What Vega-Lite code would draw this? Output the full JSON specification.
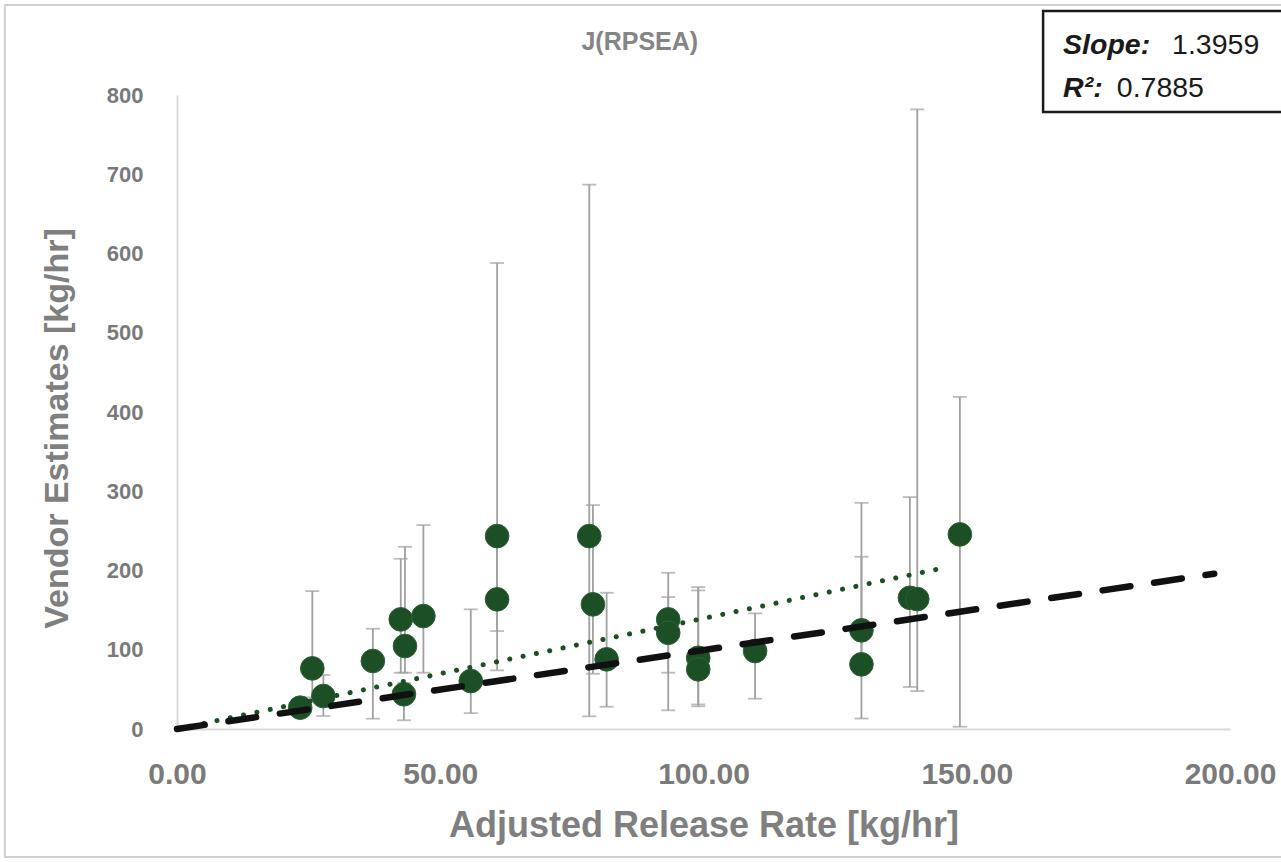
{
  "$schema": "https://vega.github.io/schema/vega-lite/v6.json",
  "autosize": {"type": "none"},
  "width": 1053,
  "height": 634,
  "padding": {"left": 177, "top": 95, "right": 51, "bottom": 133},
  "background": "white",
  "datasets": {
    "pts": [
      {"x": 23.4, "y": 26.9, "lo": 19, "hi": 34},
      {"x": 25.7, "y": 76.5, "lo": 40, "hi": 174},
      {"x": 27.8, "y": 41.6, "lo": 16.4, "hi": 68},
      {"x": 37.2, "y": 85.8, "lo": 13, "hi": 126.5},
      {"x": 42.5, "y": 138.3, "lo": 71, "hi": 214.8},
      {"x": 43.3, "y": 104.7, "lo": 71, "hi": 229.9},
      {"x": 43.1, "y": 43.8, "lo": 11, "hi": 58},
      {"x": 46.8, "y": 142.5, "lo": 71, "hi": 257.3},
      {"x": 55.8, "y": 60.5, "lo": 20, "hi": 151},
      {"x": 60.8, "y": 243.4, "lo": 123.6, "hi": 588},
      {"x": 60.8, "y": 163.6, "lo": 74, "hi": 240},
      {"x": 78.3, "y": 243.4, "lo": 16, "hi": 686.9},
      {"x": 79.0, "y": 157.3, "lo": 69.7, "hi": 282.5},
      {"x": 81.6, "y": 87.9, "lo": 28.1, "hi": 171.9},
      {"x": 93.3, "y": 138.3, "lo": 71, "hi": 197.1},
      {"x": 93.3, "y": 121.4, "lo": 23.6, "hi": 166.5},
      {"x": 99.0, "y": 89.9, "lo": 31, "hi": 179},
      {"x": 99.0, "y": 75.3, "lo": 28.6, "hi": 174.9},
      {"x": 109.8, "y": 98.4, "lo": 38.2, "hi": 145.9},
      {"x": 130.0, "y": 124.5, "lo": 13.2, "hi": 285.4},
      {"x": 130.0, "y": 81.6, "lo": 75, "hi": 217.3},
      {"x": 139.2, "y": 165.6, "lo": 53, "hi": 292.6},
      {"x": 140.6, "y": 163.9, "lo": 47.9, "hi": 781.8},
      {"x": 148.7, "y": 245.5, "lo": 2.9, "hi": 419}
    ],
    "fit": [
      {"x": 0, "y": 0},
      {"x": 146, "y": 203.8}
    ],
    "oneToOne": [
      {"x": 0, "y": 0},
      {"x": 197, "y": 196}
    ],
    "one": [{}]
  },
  "config": {
    "view": {"stroke": null},
    "axis": {
      "grid": false,
      "ticks": false,
      "domainColor": "#d9d9d9",
      "domainWidth": 2,
      "labelColor": "#7a7a7a",
      "titleColor": "#7f7f7f",
      "labelFont": "Liberation Sans",
      "titleFont": "Liberation Sans",
      "labelFontWeight": "bold",
      "titleFontWeight": "bold"
    }
  },
  "layer": [
    {
      "data": {"name": "one"},
      "mark": {"type": "rect", "fill": null, "stroke": "#d0d0d0", "strokeWidth": 2},
      "encoding": {
        "x": {"datum": -32.7, "type": "quantitative", "scale": {"domain": [0, 200], "nice": false}},
        "x2": {"datum": 215},
        "y": {"datum": 913.6, "type": "quantitative", "scale": {"domain": [0, 800], "nice": false}},
        "y2": {"datum": -161.5}
      }
    },
    {
      "data": {"name": "pts"},
      "mark": {"type": "rule", "color": "#a0a0a0", "strokeWidth": 1.8},
      "encoding": {
        "x": {
          "field": "x", "type": "quantitative",
          "scale": {"domain": [0, 200], "nice": false},
          "axis": {
            "values": [0, 50, 100, 150, 200],
            "format": ".2f",
            "labelFontSize": 30,
            "labelPadding": 30,
            "titleFontSize": 36,
            "titlePadding": 19,
            "labelFlush": false,
            "labelOverlap": false
          },
          "title": "Adjusted Release Rate [kg/hr]"
        },
        "y": {
          "field": "lo", "type": "quantitative",
          "scale": {"domain": [0, 800], "nice": false},
          "axis": {
            "values": [0, 100, 200, 300, 400, 500, 600, 700, 800],
            "labelFontSize": 22,
            "labelPadding": 34,
            "titleFontSize": 34,
            "titlePadding": 32,
            "titleY": 333,
            "labelFlush": false
          },
          "title": "Vendor Estimates [kg/hr]"
        },
        "y2": {"field": "hi"}
      }
    },
    {
      "data": {"name": "pts"},
      "mark": {"type": "tick", "orient": "horizontal", "color": "#a0a0a0", "thickness": 1.8, "size": 14},
      "encoding": {
        "x": {"field": "x", "type": "quantitative"},
        "y": {"field": "lo", "type": "quantitative"}
      }
    },
    {
      "data": {"name": "pts"},
      "mark": {"type": "tick", "orient": "horizontal", "color": "#a0a0a0", "thickness": 1.8, "size": 14},
      "encoding": {
        "x": {"field": "x", "type": "quantitative"},
        "y": {"field": "hi", "type": "quantitative"}
      }
    },
    {
      "data": {"name": "pts"},
      "mark": {"type": "circle", "size": 560, "opacity": 1, "color": "#1d4f27", "stroke": "#2b6236", "strokeWidth": 1},
      "encoding": {
        "x": {"field": "x", "type": "quantitative"},
        "y": {"field": "y", "type": "quantitative"}
      }
    },
    {
      "data": {"name": "fit"},
      "mark": {"type": "line", "color": "#1d4f27", "strokeWidth": 5, "strokeDash": [0.1, 13.5], "strokeCap": "round"},
      "encoding": {
        "x": {"field": "x", "type": "quantitative"},
        "y": {"field": "y", "type": "quantitative"}
      }
    },
    {
      "data": {"name": "oneToOne"},
      "mark": {"type": "line", "color": "#111111", "strokeWidth": 6.5, "strokeDash": [28, 24], "strokeCap": "round"},
      "encoding": {
        "x": {"field": "x", "type": "quantitative"},
        "y": {"field": "y", "type": "quantitative"}
      }
    },
    {
      "data": {"name": "one"},
      "mark": {"type": "text", "text": "J(RPSEA)", "font": "Liberation Sans", "fontSize": 25, "fontWeight": "bold", "align": "center", "baseline": "middle", "color": "#858585"},
      "encoding": {
        "x": {"datum": 87.9, "type": "quantitative"},
        "y": {"datum": 866.9, "type": "quantitative"}
      }
    },
    {
      "data": {"name": "one"},
      "mark": {"type": "rect", "fill": "white", "stroke": "#1a1a1a", "strokeWidth": 2.5},
      "encoding": {
        "x": {"datum": 164.5, "type": "quantitative"},
        "x2": {"datum": 215},
        "y": {"datum": 906, "type": "quantitative"},
        "y2": {"datum": 778.5}
      }
    },
    {
      "data": {"name": "one"},
      "mark": {"type": "text", "text": "Slope:", "font": "Liberation Sans", "fontSize": 28.5, "fontWeight": "bold", "fontStyle": "italic", "align": "left", "baseline": "middle", "color": "#1a1a1a"},
      "encoding": {
        "x": {"datum": 168.3, "type": "quantitative"},
        "y": {"datum": 863, "type": "quantitative"}
      }
    },
    {
      "data": {"name": "one"},
      "mark": {"type": "text", "text": "1.3959", "font": "Liberation Sans", "fontSize": 28.5, "align": "left", "baseline": "middle", "color": "#1a1a1a"},
      "encoding": {
        "x": {"datum": 189.0, "type": "quantitative"},
        "y": {"datum": 863, "type": "quantitative"}
      }
    },
    {
      "data": {"name": "one"},
      "mark": {"type": "text", "text": "R²:", "font": "Liberation Sans", "fontSize": 28.5, "fontWeight": "bold", "fontStyle": "italic", "align": "left", "baseline": "middle", "color": "#1a1a1a"},
      "encoding": {
        "x": {"datum": 168.3, "type": "quantitative"},
        "y": {"datum": 809, "type": "quantitative"}
      }
    },
    {
      "data": {"name": "one"},
      "mark": {"type": "text", "text": "0.7885", "font": "Liberation Sans", "fontSize": 28.5, "align": "left", "baseline": "middle", "color": "#1a1a1a"},
      "encoding": {
        "x": {"datum": 178.5, "type": "quantitative"},
        "y": {"datum": 809, "type": "quantitative"}
      }
    }
  ]
}
